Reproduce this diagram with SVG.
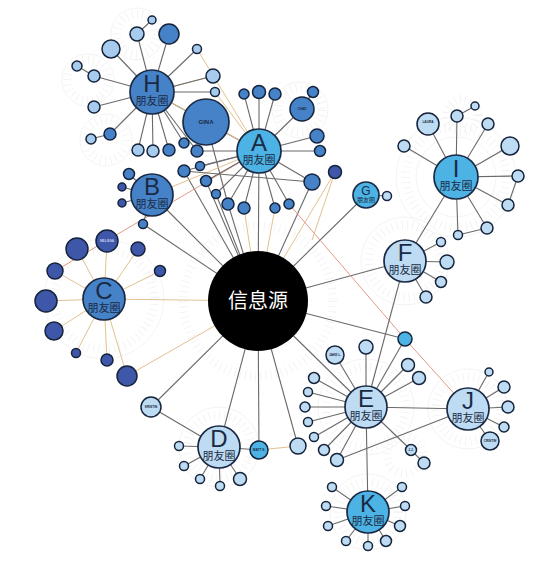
<svg xmlns="http://www.w3.org/2000/svg" width="558" height="566" viewBox="0 0 558 566">
<style>
.fan{fill:none;stroke:#efefef;stroke-width:9;stroke-dasharray:0.7 4.5}
.ring{fill:none;stroke:#f0f0f0;stroke-width:0.8}
.e{stroke:#6a6a6a;stroke-width:1.1;fill:none}
.b{stroke:#e3c08f;stroke-width:1;fill:none}
.r{stroke:#e39a85;stroke-width:1;fill:none}
.hub{stroke:#1b2a44;stroke-width:1.7}
.s{stroke:#15233b;stroke-width:1.5}
.cy{fill:#4cb3e4}
.mb{fill:#4682c7}
.dk{fill:#3f57a8}
.lt{fill:#bddcf3}
.lh{fill:#a7cbec}
.L{font-family:"Liberation Sans","Noto Sans CJK SC",sans-serif;fill:#1b2a44;text-anchor:middle}
.t{font-family:"Liberation Sans",sans-serif;font-size:3.2px;font-weight:bold;fill:#1b2a44;text-anchor:middle}
</style>
<g id="background">
<circle class="fan" cx="137" cy="34" r="20"/><circle class="ring" cx="137" cy="34" r="26"/>
<circle class="fan" cx="88" cy="80" r="20"/><circle class="ring" cx="88" cy="80" r="26"/>
<circle class="fan" cx="106" cy="140" r="20"/><circle class="ring" cx="106" cy="140" r="26"/>
<circle class="fan" cx="300" cy="110" r="22"/><circle class="ring" cx="300" cy="110" r="28"/>
<circle class="fan" cx="456" cy="177" r="50"/><circle class="ring" cx="456" cy="177" r="60"/><circle class="ring" cx="456" cy="177" r="40"/>
<circle class="fan" cx="462" cy="115" r="16"/>
<circle class="fan" cx="405" cy="261" r="36"/><circle class="ring" cx="405" cy="261" r="44"/>
<circle class="fan" cx="104" cy="299" r="50"/><circle class="ring" cx="104" cy="299" r="60"/>
<circle class="fan" cx="219" cy="447" r="32"/><circle class="ring" cx="219" cy="447" r="40"/>
<circle class="fan" cx="366" cy="407" r="40"/><circle class="ring" cx="366" cy="407" r="48"/>
<circle class="fan" cx="468" cy="409" r="32"/><circle class="ring" cx="468" cy="409" r="40"/>
<circle class="fan" cx="368" cy="512" r="30"/><circle class="ring" cx="368" cy="512" r="38"/>
<circle class="fan" cx="405" cy="455" r="18"/>
<circle class="fan" cx="258" cy="301" r="75"/>
</g>
<g id="connectors">
<line class="e" x1="258" y1="301" x2="259" y2="151"/>
<line class="e" x1="258" y1="301" x2="152" y2="195"/>
<line class="b" x1="258" y1="301" x2="104" y2="299"/>
<line class="e" x1="258" y1="301" x2="366" y2="195"/>
<line class="e" x1="258" y1="301" x2="405" y2="261"/>
<line class="e" x1="258" y1="301" x2="366" y2="407"/>
<line class="e" x1="258" y1="301" x2="405" y2="339"/>
<line class="e" x1="258" y1="301" x2="219" y2="447"/>
<line class="e" x1="258" y1="301" x2="259" y2="450"/>
<line class="e" x1="258" y1="301" x2="298" y2="446"/>
<line class="e" x1="258" y1="301" x2="151" y2="407"/>
<line class="b" x1="258" y1="301" x2="127" y2="376"/>
<line class="e" x1="258" y1="301" x2="143" y2="224"/>
<line class="e" x1="258" y1="301" x2="206" y2="181"/>
<line class="e" x1="258" y1="301" x2="228" y2="204"/>
<line class="b" x1="258" y1="301" x2="244" y2="208"/>
<line class="b" x1="258" y1="301" x2="275" y2="208"/>
<line class="e" x1="258" y1="301" x2="312" y2="182"/>
<line class="b" x1="258" y1="301" x2="335" y2="172"/>
<line class="e" x1="258" y1="301" x2="216" y2="194"/>
<line class="e" x1="258" y1="301" x2="184" y2="171"/>
<line class="e" x1="206" y1="122" x2="228" y2="204"/>
<line class="r" x1="259" y1="151" x2="55" y2="271"/>
<line class="r" x1="289" y1="204" x2="405" y2="339"/>
<line class="r" x1="405" y1="339" x2="468" y2="409"/>
<line class="e" x1="456" y1="177" x2="405" y2="261"/>
<line class="e" x1="405" y1="261" x2="366" y2="407"/>
<line class="e" x1="366" y1="407" x2="368" y2="512"/>
<line class="e" x1="366" y1="407" x2="468" y2="409"/>
<line class="e" x1="468" y1="409" x2="337" y2="460"/>
<line class="e" x1="219" y1="447" x2="151" y2="407"/>
<line class="e" x1="366" y1="407" x2="405" y2="339"/>
<line class="b" x1="259" y1="450" x2="298" y2="446"/>
<line class="e" x1="152" y1="92" x2="206" y2="122"/>
<line class="e" x1="259" y1="151" x2="206" y2="122"/>
<line class="b" x1="152" y1="92" x2="259" y2="151"/>
<line class="b" x1="197" y1="49" x2="259" y2="151"/>
<line class="b" x1="213" y1="76" x2="152" y2="92"/>
<line class="b" x1="215" y1="92" x2="259" y2="151"/>
<line class="b" x1="152" y1="195" x2="259" y2="151"/>
<line class="b" x1="335" y1="172" x2="312" y2="240"/>
<g class="e">
<line x1="152" y1="92" x2="137" y2="34"/><line x1="137" y1="34" x2="152" y2="20"/>
<line x1="152" y1="92" x2="169" y2="34"/><line x1="152" y1="92" x2="197" y2="49"/>
<line x1="152" y1="92" x2="213" y2="76"/><line x1="152" y1="92" x2="215" y2="92"/>
<line x1="152" y1="92" x2="111" y2="49"/><line x1="152" y1="92" x2="94" y2="76"/>
<line x1="94" y1="76" x2="77" y2="66"/><line x1="152" y1="92" x2="94" y2="107"/>
<line x1="152" y1="92" x2="110" y2="134"/><line x1="110" y1="134" x2="91" y2="139"/>
<line x1="152" y1="92" x2="138" y2="150"/><line x1="152" y1="92" x2="153" y2="151"/>
<line x1="152" y1="92" x2="169" y2="150"/><line x1="152" y1="92" x2="184" y2="143"/>
<line x1="152" y1="92" x2="197" y2="151"/>
</g>
<g class="e">
<line x1="259" y1="151" x2="244" y2="94"/><line x1="259" y1="151" x2="259" y2="92"/>
<line x1="259" y1="151" x2="275" y2="94"/><line x1="259" y1="151" x2="302" y2="109"/>
<line x1="302" y1="109" x2="313" y2="92"/><line x1="259" y1="151" x2="317" y2="136"/>
<line x1="259" y1="151" x2="320" y2="151"/><line x1="259" y1="151" x2="197" y2="151"/>
<line x1="259" y1="151" x2="184" y2="171"/><line x1="259" y1="151" x2="200" y2="166"/>
<line x1="259" y1="151" x2="206" y2="181"/><line x1="259" y1="151" x2="216" y2="194"/>
<line x1="259" y1="151" x2="228" y2="204"/><line x1="259" y1="151" x2="244" y2="208"/>
<line x1="259" y1="151" x2="275" y2="208"/><line x1="259" y1="151" x2="289" y2="204"/>
<line x1="259" y1="151" x2="312" y2="182"/><line x1="184" y1="171" x2="312" y2="182"/>
</g>
<g class="e">
<line x1="152" y1="195" x2="129" y2="174"/><line x1="152" y1="195" x2="122" y2="187"/>
<line x1="152" y1="195" x2="122" y2="203"/><line x1="152" y1="195" x2="143" y2="224"/>
</g>
<g class="b">
<line x1="104" y1="299" x2="77" y2="249"/><line x1="104" y1="299" x2="107" y2="241"/>
<line x1="104" y1="299" x2="138" y2="249"/><line x1="104" y1="299" x2="160" y2="271"/>
<line x1="104" y1="299" x2="55" y2="271"/><line x1="104" y1="299" x2="46" y2="301"/>
<line x1="104" y1="299" x2="54" y2="331"/><line x1="104" y1="299" x2="76" y2="353"/>
<line x1="104" y1="299" x2="107" y2="360"/><line x1="104" y1="299" x2="127" y2="376"/>
</g>
<g class="e">
<line x1="219" y1="447" x2="179" y2="446"/><line x1="219" y1="447" x2="184" y2="466"/>
<line x1="219" y1="447" x2="200" y2="479"/><line x1="219" y1="447" x2="220" y2="486"/>
<line x1="219" y1="447" x2="240" y2="479"/><line x1="219" y1="447" x2="259" y2="450"/>
</g>
<g class="e">
<line x1="366" y1="407" x2="335" y2="355"/><line x1="366" y1="407" x2="366" y2="347"/>
<line x1="366" y1="407" x2="408" y2="365"/><line x1="366" y1="407" x2="419" y2="378"/>
<line x1="366" y1="407" x2="314" y2="378"/><line x1="366" y1="407" x2="308" y2="392"/>
<line x1="366" y1="407" x2="305" y2="407"/><line x1="366" y1="407" x2="308" y2="422"/>
<line x1="366" y1="407" x2="314" y2="437"/><line x1="366" y1="407" x2="324" y2="450"/>
<line x1="366" y1="407" x2="337" y2="460"/><line x1="366" y1="407" x2="411" y2="450"/>
<line x1="411" y1="450" x2="424" y2="463"/>
</g>
<g class="e">
<line x1="405" y1="261" x2="441" y2="242"/><line x1="405" y1="261" x2="447" y2="262"/>
<line x1="405" y1="261" x2="441" y2="282"/><line x1="405" y1="261" x2="426" y2="297"/>
<line x1="366" y1="195" x2="387" y2="196"/>
<line x1="456" y1="177" x2="428" y2="124"/><line x1="456" y1="177" x2="457" y2="116"/>
<line x1="457" y1="116" x2="475" y2="106"/><line x1="456" y1="177" x2="488" y2="124"/>
<line x1="456" y1="177" x2="510" y2="146"/><line x1="456" y1="177" x2="518" y2="176"/>
<line x1="456" y1="177" x2="508" y2="205"/><line x1="456" y1="177" x2="487" y2="228"/>
<line x1="456" y1="177" x2="458" y2="235"/><line x1="456" y1="177" x2="404" y2="146"/>
<line x1="487" y1="228" x2="458" y2="235"/><line x1="508" y1="205" x2="518" y2="176"/>
<line x1="468" y1="409" x2="489" y2="372"/><line x1="468" y1="409" x2="504" y2="387"/>
<line x1="468" y1="409" x2="508" y2="407"/><line x1="468" y1="409" x2="504" y2="427"/>
<line x1="468" y1="409" x2="490" y2="441"/>
<line x1="368" y1="512" x2="332" y2="487"/><line x1="368" y1="512" x2="326" y2="506"/>
<line x1="368" y1="512" x2="328" y2="526"/><line x1="368" y1="512" x2="346" y2="541"/>
<line x1="368" y1="512" x2="368" y2="546"/><line x1="368" y1="512" x2="386" y2="541"/>
<line x1="368" y1="512" x2="400" y2="526"/><line x1="368" y1="512" x2="405" y2="506"/>
<line x1="368" y1="512" x2="402" y2="487"/>
</g>
</g>
<g id="source"><circle cx="258" cy="301" r="50" fill="#000"/><text class="L" x="258" y="308" font-size="20" style="fill:#fff">信息源</text></g>
<g id="hub-A"><circle class="hub cy" cx="259" cy="151" r="22"/><text class="L" x="259" y="151" font-size="24">A</text><text class="L" x="259" y="164" font-size="11">朋友圈</text></g>
<g id="hub-H"><circle class="hub mb" cx="152" cy="92" r="22"/><text class="L" x="152" y="92" font-size="24">H</text><text class="L" x="152" y="105" font-size="11">朋友圈</text></g>
<g id="hub-B"><circle class="hub mb" cx="152" cy="195" r="21"/><text class="L" x="152" y="195" font-size="24">B</text><text class="L" x="152" y="208" font-size="11">朋友圈</text></g>
<g id="hub-C"><circle class="hub mb" cx="104" cy="299" r="21"/><text class="L" x="104" y="299" font-size="24">C</text><text class="L" x="104" y="312" font-size="11">朋友圈</text></g>
<g id="hub-G"><circle class="hub cy" cx="366" cy="195" r="13"/><text class="L" x="366" y="195" font-size="12">G</text><text class="L" x="366" y="202" font-size="6">朋友圈</text></g>
<g id="hub-I"><circle class="hub cy" cx="456" cy="177" r="22"/><text class="L" x="456" y="177" font-size="24">I</text><text class="L" x="456" y="190" font-size="11">朋友圈</text></g>
<g id="hub-F"><circle class="hub lt" cx="405" cy="261" r="21"/><text class="L" x="405" y="261" font-size="24">F</text><text class="L" x="405" y="274" font-size="11">朋友圈</text></g>
<g id="hub-E"><circle class="hub lt" cx="366" cy="407" r="21"/><text class="L" x="366" y="407" font-size="24">E</text><text class="L" x="366" y="420" font-size="11">朋友圈</text></g>
<g id="hub-J"><circle class="hub lt" cx="468" cy="409" r="21"/><text class="L" x="468" y="409" font-size="24">J</text><text class="L" x="468" y="422" font-size="11">朋友圈</text></g>
<g id="hub-D"><circle class="hub lt" cx="219" cy="447" r="21"/><text class="L" x="219" y="447" font-size="24">D</text><text class="L" x="219" y="460" font-size="11">朋友圈</text></g>
<g id="hub-K"><circle class="hub cy" cx="368" cy="512" r="21"/><text class="L" x="368" y="512" font-size="24">K</text><text class="L" x="368" y="525" font-size="11">朋友圈</text></g>
<g id="gina"><circle class="hub mb" cx="206" cy="122" r="23"/><text class="t" x="206" y="124" style="font-size:6px">GINA</text></g>
<g id="sat-H">
<circle class="s lh" cx="137" cy="34" r="7"/><circle class="s lh" cx="152" cy="20" r="4"/>
<circle class="s mb" cx="169" cy="34" r="10"/><circle class="s lh" cx="197" cy="49" r="4.5"/>
<circle class="s lh" cx="213" cy="76" r="7"/><circle class="s lh" cx="215" cy="92" r="4.5"/>
<circle class="s lh" cx="111" cy="49" r="9"/><circle class="s lh" cx="77" cy="66" r="5"/>
<circle class="s lh" cx="94" cy="76" r="6"/><circle class="s lh" cx="94" cy="107" r="6"/>
<circle class="s mb" cx="110" cy="134" r="6"/><circle class="s lh" cx="91" cy="139" r="5"/>
<circle class="s lh" cx="138" cy="150" r="6"/><circle class="s lh" cx="153" cy="151" r="6"/>
<circle class="s mb" cx="169" cy="150" r="6"/><circle class="s mb" cx="184" cy="143" r="5"/>
</g>
<g id="sat-A">
<circle class="s mb" cx="244" cy="94" r="5"/><circle class="s mb" cx="259" cy="92" r="6.5"/>
<circle class="s mb" cx="275" cy="94" r="6"/><circle class="s mb" cx="313" cy="92" r="5.5"/>
<circle class="s mb" cx="302" cy="109" r="12"/><text class="t" x="302" y="110">CHAD</text>
<circle class="s mb" cx="317" cy="136" r="7"/><circle class="s mb" cx="320" cy="151" r="5.5"/>
<circle class="s mb" cx="197" cy="151" r="6"/><circle class="s mb" cx="184" cy="171" r="6"/>
<circle class="s mb" cx="200" cy="166" r="4.5"/><circle class="s mb" cx="206" cy="181" r="5.5"/>
<circle class="s mb" cx="216" cy="194" r="4.5"/><circle class="s mb" cx="228" cy="204" r="6"/>
<circle class="s mb" cx="244" cy="208" r="6"/><circle class="s mb" cx="275" cy="208" r="5"/>
<circle class="s mb" cx="289" cy="204" r="5"/><circle class="s mb" cx="312" cy="182" r="8"/>
<circle class="s dk" cx="335" cy="172" r="6.5"/>
</g>
<g id="sat-B">
<circle class="s mb" cx="129" cy="174" r="5.5"/><circle class="s dk" cx="122" cy="187" r="4"/>
<circle class="s dk" cx="122" cy="203" r="4"/><circle class="s mb" cx="143" cy="224" r="4.5"/>
</g>
<g id="sat-C">
<circle class="s dk" cx="77" cy="249" r="11"/><circle class="s dk" cx="107" cy="241" r="11"/><text class="t" x="107" y="242" style="fill:#c8d2ee">MELISSA</text>
<circle class="s dk" cx="138" cy="249" r="7"/><circle class="s dk" cx="160" cy="271" r="5.5"/>
<circle class="s dk" cx="55" cy="271" r="8"/><circle class="s dk" cx="46" cy="301" r="11"/>
<circle class="s dk" cx="54" cy="331" r="9"/><circle class="s dk" cx="76" cy="353" r="4.5"/>
<circle class="s dk" cx="107" cy="360" r="6"/><circle class="s dk" cx="127" cy="376" r="10"/>
</g>
<g id="sat-D">
<circle class="s lt" cx="151" cy="407" r="10"/><text class="t" x="151" y="408">KRISTIN</text>
<circle class="s cy" cx="259" cy="450" r="9"/><text class="t" x="259" y="451">MATT S.</text>
<circle class="s lt" cx="179" cy="446" r="4.5"/><circle class="s lt" cx="184" cy="466" r="4.5"/>
<circle class="s lt" cx="200" cy="479" r="4.5"/><circle class="s lt" cx="220" cy="486" r="4.5"/>
<circle class="s lt" cx="240" cy="479" r="6.5"/><circle class="s lt" cx="298" cy="446" r="8"/>
</g>
<g id="sat-E">
<circle class="s lt" cx="335" cy="355" r="9"/><text class="t" x="335" y="356">JAKE L.</text>
<circle class="s lt" cx="366" cy="347" r="7"/><circle class="s cy" cx="405" cy="339" r="7"/>
<circle class="s lt" cx="408" cy="365" r="6.5"/><circle class="s lt" cx="419" cy="378" r="6.5"/>
<circle class="s lt" cx="314" cy="378" r="5.5"/><circle class="s lt" cx="308" cy="392" r="4.5"/>
<circle class="s lt" cx="305" cy="407" r="5"/><circle class="s lt" cx="308" cy="422" r="4.5"/>
<circle class="s lt" cx="314" cy="437" r="4.5"/><circle class="s lt" cx="324" cy="450" r="5.5"/>
<circle class="s lt" cx="337" cy="460" r="6.5"/>
<circle class="s lt" cx="411" cy="450" r="5.5"/><text class="t" x="411" y="451">J.J.</text>
<circle class="s lt" cx="424" cy="463" r="6"/>
</g>
<g id="sat-F">
<circle class="s lt" cx="441" cy="242" r="4.5"/><circle class="s lt" cx="447" cy="262" r="7"/>
<circle class="s lt" cx="441" cy="282" r="5.5"/><circle class="s lt" cx="426" cy="297" r="6"/>
<circle class="s lt" cx="387" cy="196" r="4.5"/>
</g>
<g id="sat-I">
<circle class="s lt" cx="428" cy="124" r="11"/><text class="t" x="428" y="123">LAURA</text>
<circle class="s lt" cx="457" cy="116" r="6"/><circle class="s lt" cx="475" cy="106" r="4"/>
<circle class="s lt" cx="488" cy="124" r="6"/><circle class="s lt" cx="510" cy="146" r="9"/>
<circle class="s lt" cx="518" cy="176" r="6"/><circle class="s lt" cx="508" cy="205" r="6"/>
<circle class="s lt" cx="487" cy="228" r="6"/><circle class="s lt" cx="458" cy="235" r="4.5"/>
<circle class="s lt" cx="404" cy="146" r="6"/>
</g>
<g id="sat-J">
<circle class="s lt" cx="489" cy="372" r="4"/><circle class="s lt" cx="504" cy="387" r="6"/>
<circle class="s lt" cx="508" cy="407" r="6"/><circle class="s lt" cx="504" cy="427" r="5"/>
<circle class="s lt" cx="490" cy="441" r="9"/><text class="t" x="490" y="442">CRISTIN</text>
</g>
<g id="sat-K">
<circle class="s lt" cx="332" cy="487" r="4.5"/><circle class="s lt" cx="326" cy="506" r="4.5"/>
<circle class="s lt" cx="328" cy="526" r="4.5"/><circle class="s lt" cx="346" cy="541" r="4.5"/>
<circle class="s lt" cx="368" cy="546" r="4.5"/><circle class="s lt" cx="386" cy="541" r="5.5"/>
<circle class="s lt" cx="400" cy="526" r="5.5"/><circle class="s lt" cx="405" cy="506" r="4.5"/>
<circle class="s lt" cx="402" cy="487" r="4.5"/>
</g>
</svg>
